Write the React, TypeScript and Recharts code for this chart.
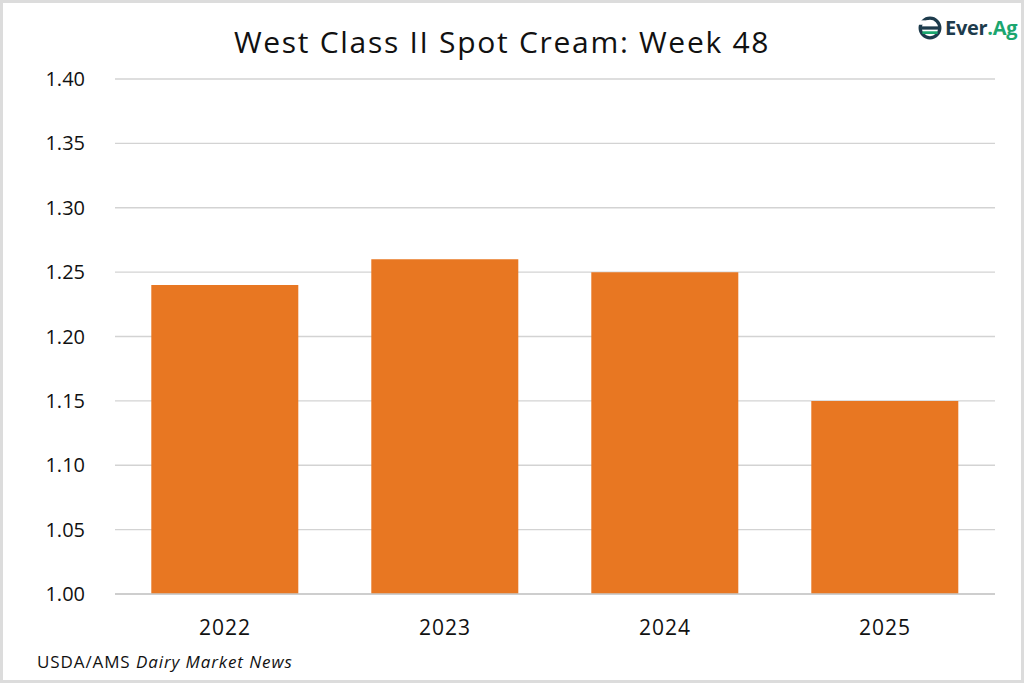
import React from 'react';
import { BarChart, Bar, XAxis, YAxis, CartesianGrid } from 'recharts';

const years = ['2022', '2023', '2024', '2025'];
const spotCream = [1.24, 1.26, 1.25, 1.15];
const yTicks = [1.0, 1.05, 1.1, 1.15, 1.2, 1.25, 1.3, 1.35, 1.4];

const chartData = years.map((year, i) => ({ year, value: spotCream[i] }));

const FONT = '"Open Sans", "Noto Sans", sans-serif';

const Logo = () => (
    <div style={{ position: 'absolute', top: 11, left: 915, display: 'flex', alignItems: 'center', fontFamily: FONT }}>
        <svg width={24} height={24} viewBox="0 0 22 22">
            <circle cx={11} cy={11} r={9} fill="none" stroke="#1d3b4c" strokeWidth={3} />
            <rect x={3} y={9.5} width={16} height={3} fill="#1d3b4c" />
            <rect x={4} y={14} width={14} height={2.5} fill="#1ba66f" />
            <rect x={0} y={4} width={10} height={4} fill="#fff" />
        </svg>
        <span style={{ fontSize: 20, fontWeight: 700, color: '#1d3b4c', marginLeft: 3, letterSpacing: -0.3 }}>
            Ever<span style={{ color: '#1ba66f' }}>.Ag</span>
        </span>
    </div>
);

export default function App() {
    return (
        <div style={{ position: 'absolute', top: 0, left: 0, width: 1024, height: 683, background: '#fff', boxSizing: 'border-box', border: '3px solid #dcdcdc', fontFamily: FONT }}>
            <div style={{ position: 'absolute', top: 18, left: -10, width: 1018, textAlign: 'center', fontSize: 30, letterSpacing: 1.7, color: '#111' }}>
                West Class II Spot Cream: Week 48
            </div>
            <Logo />
            <div style={{ position: 'absolute', top: -3, left: -3 }}>
                <BarChart
                    width={1024}
                    height={683}
                    data={chartData}
                    margin={{ top: 79, right: 29, left: 0, bottom: 29 }}
                    barCategoryGap="16.5%"
                >
                    <CartesianGrid vertical={false} stroke="#d3d3d3" strokeWidth={1.3} />
                    <XAxis
                        dataKey="year"
                        height={60}
                        tickLine={false}
                        tickSize={0}
                        tickMargin={26}
                        stroke="#c8c8c8"
                        strokeWidth={1.5}
                        tick={{ fill: '#111', fontSize: 21, letterSpacing: 1, fontFamily: FONT }}
                    />
                    <YAxis
                        width={115}
                        domain={[1.0, 1.4]}
                        ticks={yTicks}
                        tickFormatter={(v: number) => v.toFixed(2)}
                        axisLine={false}
                        tickLine={false}
                        tickSize={0}
                        tickMargin={30}
                        tick={{ fill: '#111', fontSize: 20, fontFamily: FONT }}
                    />
                    <Bar dataKey="value" fill="#e87722" isAnimationActive={false} />
                </BarChart>
            </div>
            <div style={{ position: 'absolute', top: 647, left: 34, fontSize: 17, letterSpacing: 0.9, color: '#111' }}>
                USDA/AMS <i>Dairy Market News</i>
            </div>
        </div>
    );
}
